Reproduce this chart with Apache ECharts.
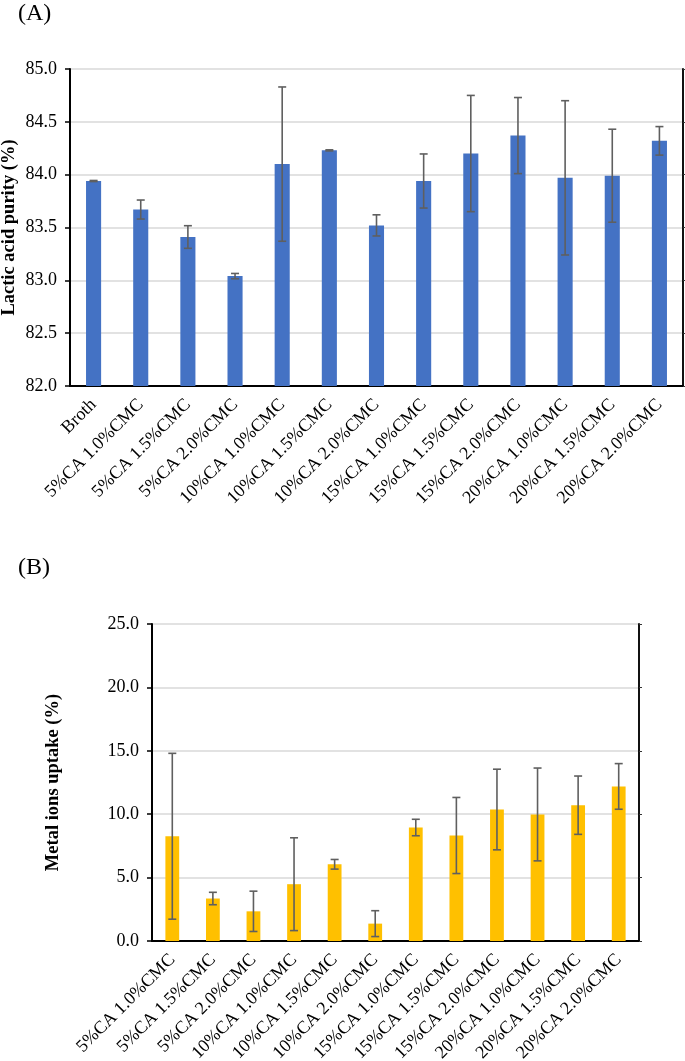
<!DOCTYPE html>
<html>
<head>
<meta charset="utf-8">
<script src="https://cdn.jsdelivr.net/npm/echarts@6/dist/echarts.min.js"></script>
<style>
html,body{margin:0;padding:0;background:#fff;}
#main{width:685px;height:1061px;}
</style>
</head>
<body>
<div id="main"></div>
<script>
// Panel A data
const catsA = ['Broth','5%CA 1.0%CMC','5%CA 1.5%CMC','5%CA 2.0%CMC','10%CA 1.0%CMC','10%CA 1.5%CMC','10%CA 2.0%CMC','15%CA 1.0%CMC','15%CA 1.5%CMC','15%CA 2.0%CMC','20%CA 1.0%CMC','20%CA 1.5%CMC','20%CA 2.0%CMC'];
const purityA = [83.94, 83.67, 83.41, 83.04, 84.10, 84.23, 83.52, 83.94, 84.20, 84.37, 83.97, 83.99, 84.32];
const errA = [0.005, 0.09, 0.107, 0.025, 0.73, 0.005, 0.10, 0.256, 0.55, 0.36, 0.73, 0.44, 0.135];
const yTicksA = {min: 82, max: 85, interval: 0.5};

// Panel B data
const catsB = ['5%CA 1.0%CMC','5%CA 1.5%CMC','5%CA 2.0%CMC','10%CA 1.0%CMC','10%CA 1.5%CMC','10%CA 2.0%CMC','15%CA 1.0%CMC','15%CA 1.5%CMC','15%CA 2.0%CMC','20%CA 1.0%CMC','20%CA 1.5%CMC','20%CA 2.0%CMC'];
const uptakeB = [8.26, 3.35, 2.34, 4.48, 6.05, 1.37, 8.95, 8.32, 10.37, 9.98, 10.71, 12.19];
const errB = [6.54, 0.49, 1.59, 3.66, 0.38, 1.02, 0.65, 3.0, 3.18, 3.66, 2.3, 1.8];
const yTicksB = {min: 0, max: 25, interval: 5};

const FONT = '"Liberation Serif","Times New Roman",serif';
const errColor = '#5f5f5f';

function errData(vals, errs) {
  return vals.map((v, i) => [i, v - errs[i], v + errs[i]]);
}
function errRender(params, api) {
  const x = api.value(0);
  const lo = api.coord([x, api.value(1)]);
  const hi = api.coord([x, api.value(2)]);
  const cap = 4;
  const style = {stroke: errColor, lineWidth: 1.6, fill: null};
  return {
    type: 'group',
    children: [
      {type: 'line', shape: {x1: lo[0], y1: lo[1], x2: hi[0], y2: hi[1]}, style},
      {type: 'line', shape: {x1: lo[0] - cap, y1: lo[1], x2: lo[0] + cap, y2: lo[1]}, style},
      {type: 'line', shape: {x1: hi[0] - cap, y1: hi[1], x2: hi[0] + cap, y2: hi[1]}, style}
    ]
  };
}

const chart = echarts.init(document.getElementById('main'), null, {renderer: 'canvas'});

function catAxis(gridIndex, data) {
  return {
    type: 'category', gridIndex, data,
    axisLine: {show: true, lineStyle: {color: '#000', width: 2}},
    axisTick: {show: false},
    axisLabel: {rotate: 45, color: '#000', fontFamily: FONT, fontSize: 18, margin: 16, interval: 0}
  };
}
function valAxis(gridIndex, t, name, nameGap) {
  return {
    type: 'value', gridIndex, min: t.min, max: t.max, interval: t.interval,
    name, nameLocation: 'middle', nameGap, nameRotate: 90, nameMoveOverlap: false,
    nameTextStyle: {fontFamily: FONT, fontWeight: 'bold', fontSize: 18.5, color: '#000'},
    axisLine: {show: true, lineStyle: {color: '#000', width: 2}},
    axisTick: {show: true, length: 5, lineStyle: {color: '#000', width: 1.5}},
    axisLabel: {color: '#000', fontFamily: FONT, fontSize: 18, margin: 13, formatter: v => v.toFixed(1)},
    splitLine: {show: true, lineStyle: {color: '#d9d9d9', width: 1.5}}
  };
}
function rightAxis(gridIndex, t) {
  return {
    type: 'value', gridIndex, position: 'right', min: t.min, max: t.max, interval: t.interval,
    axisLine: {show: true, lineStyle: {color: '#111', width: 2}},
    axisTick: {show: true, length: 3, lineStyle: {color: '#333'}},
    axisLabel: {show: false}, splitLine: {show: false}
  };
}

chart.setOption({
  animation: false,
  backgroundColor: '#fff',
  title: [
    {text: '(A)', left: 13, top: -3, textStyle: {fontFamily: FONT, fontWeight: 'normal', fontSize: 24, color: '#000'}},
    {text: '(B)', left: 13, top: 551, textStyle: {fontFamily: FONT, fontWeight: 'normal', fontSize: 24, color: '#000'}}
  ],
  grid: [
    {left: 70, top: 69, width: 613, height: 317, containLabel: false, outerBoundsMode: 'none'},
    {left: 152, top: 624, width: 487, height: 317, containLabel: false, outerBoundsMode: 'none'}
  ],
  xAxis: [catAxis(0, catsA), catAxis(1, catsB)],
  yAxis: [
    valAxis(0, yTicksA, 'Lactic acid purity (%)', 51),
    valAxis(1, yTicksB, 'Metal ions uptake (%)', 89),
    rightAxis(0, yTicksA),
    rightAxis(1, yTicksB)
  ],
  series: [
    {type: 'bar', xAxisIndex: 0, yAxisIndex: 0, data: purityA, barWidth: '32%',
     itemStyle: {color: '#4472C4'}},
    {type: 'custom', xAxisIndex: 0, yAxisIndex: 0, data: errData(purityA, errA),
     encode: {x: 0, y: [1, 2]}, renderItem: errRender, z: 5},
    {type: 'bar', xAxisIndex: 1, yAxisIndex: 1, data: uptakeB, barWidth: '34%',
     itemStyle: {color: '#FFC000'}},
    {type: 'custom', xAxisIndex: 1, yAxisIndex: 1, data: errData(uptakeB, errB),
     encode: {x: 0, y: [1, 2]}, renderItem: errRender, z: 5}
  ]
});
</script>
</body>
</html>
